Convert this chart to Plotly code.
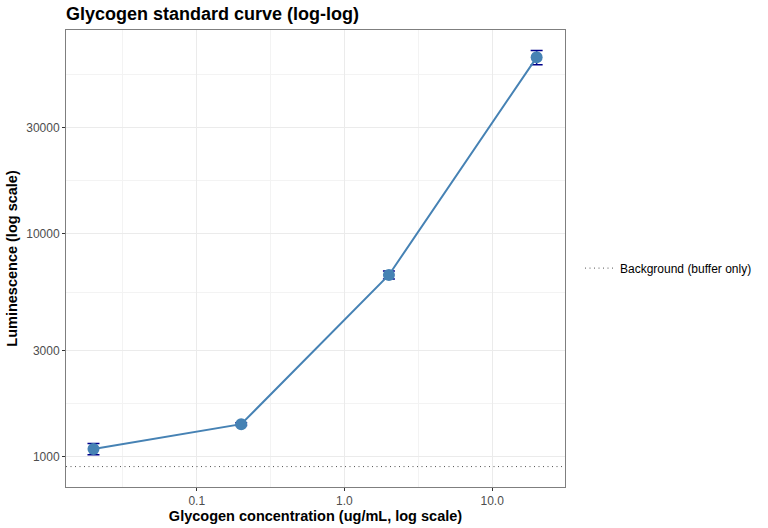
import plotly.graph_objects as go

# Standard curve data
concentration = [0.02, 0.2, 2.0, 20.0]
luminescence = [1085, 1402, 6550, 62000]
luminescence_sd = [63, 20, 270, 4500]
background = 905

x_ticks = [0.1, 1.0, 10.0]
x_tick_labels = ["0.1", "1.0", "10.0"]
x_minor = [0.0316, 0.316, 3.16]
y_ticks = [1000, 3000, 10000, 30000]
y_tick_labels = ["1000", "3000", "10000", "30000"]
y_minor = [1733, 5477, 17320, 52000]

# axis limits in log10 units
x_range = [-1.885, 1.493]
y_range = [2.865, 4.915]

fig = go.Figure()

# background level
fig.add_trace(go.Scatter(
    x=[10 ** x_range[0], 10 ** x_range[1]],
    y=[background, background],
    mode="lines",
    line=dict(color="#555555", width=1, dash="1px,3.5px"),
    name="Background (buffer only)",
    showlegend=True,
))

# standard curve
fig.add_trace(go.Scatter(
    x=concentration,
    y=luminescence,
    mode="lines+markers",
    line=dict(color="#4682B4", width=2),
    marker=dict(color="#4682B4", size=12),
    error_y=dict(type="data", array=luminescence_sd, color="#00008B",
                 thickness=1.5, width=6),
    showlegend=False,
))

axis_style = dict(
    type="log",
    automargin=False,
    showline=True,
    linecolor="#7f7f7f",
    linewidth=1,
    mirror=True,
    ticks="outside",
    ticklen=3,
    tickcolor="#333333",
    tickfont=dict(size=12, color="#4d4d4d"),
    showgrid=True,
    gridcolor="#ebebeb",
    gridwidth=1,
    zeroline=False,
)

fig.update_xaxes(
    axis_style,
    range=x_range,
    tickvals=x_ticks,
    ticktext=x_tick_labels,
    minor=dict(tickvals=x_minor, showgrid=True, gridcolor="#f3f3f3",
               gridwidth=0.6, ticks=""),
    title=dict(text="<b>Glycogen concentration (ug/mL, log scale)</b>",
               font=dict(size=14.5, color="black"), standoff=0),
)
fig.update_yaxes(
    axis_style,
    range=y_range,
    tickvals=y_ticks,
    ticktext=y_tick_labels,
    minor=dict(tickvals=y_minor, showgrid=True, gridcolor="#f3f3f3",
               gridwidth=0.6, ticks=""),
    title=dict(text="<b>Luminescence (log scale)</b>",
               font=dict(size=14.5, color="black"), standoff=5),
)

fig.update_layout(
    width=768,
    height=528,
    margin=dict(l=66, r=202, t=30, b=41),
    paper_bgcolor="white",
    plot_bgcolor="white",
    font=dict(family="Liberation Sans, Arial, sans-serif"),
    title=dict(text="<b>Glycogen standard curve (log-log)</b>",
               font=dict(size=18, color="black"),
               x=66 / 768, xanchor="left", y=1 - 14 / 528, yanchor="middle"),
    legend=dict(x=1.028, xanchor="left", y=0.479, yanchor="middle",
                font=dict(size=12, color="black"), bgcolor="rgba(0,0,0,0)"),
)

# drop the default page margin so the figure fills the window
fig.write_html("out.html", config={"displayModeBar": False},
               post_script="document.body.style.margin='0';")
